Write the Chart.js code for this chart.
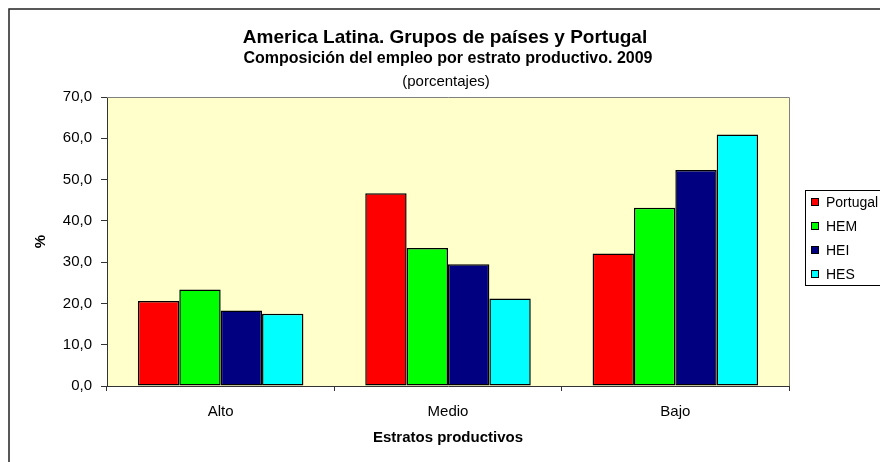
<!DOCTYPE html>
<html>
<head>
<meta charset="utf-8">
<script src="https://cdn.jsdelivr.net/npm/chart.js@4.4.0/dist/chart.umd.min.js"></script>
<style>
  html, body { margin: 0; padding: 0; background: #fff; }
  canvas { display: block; }
</style>
</head>
<body>
<canvas id="chart" width="880" height="462"></canvas>
<script>
// data
const categories = ['Alto', 'Medio', 'Bajo'];
const seriesNames = ['Portugal', 'HEM', 'HEI', 'HES'];
const portugal = [20.6, 46.7, 32.1];
const hem = [23.4, 33.4, 43.2];
const hei = [18.3, 29.5, 52.3];
const hes = [17.5, 21.2, 60.9];
const seriesColors = ['#FF0000', '#00FF00', '#000080', '#00FFFF'];

const titleLines = [
  'America Latina. Grupos de países y Portugal',
  'Composición del empleo por estrato productivo. 2009',
  '(porcentajes)'
];

const FONT = 'Arial, "Liberation Sans", sans-serif';

// white page, pale plot area, outer frame
const backdrop = {
  id: 'backdrop',
  beforeDraw(chart) {
    const { ctx, chartArea: a } = chart;
    ctx.save();
    ctx.fillStyle = '#fff';
    ctx.fillRect(0, 0, chart.width, chart.height);
    ctx.fillStyle = '#FFFFCC';
    ctx.fillRect(a.left, a.top, a.right - a.left, a.bottom - a.top);
    ctx.strokeStyle = '#222';
    ctx.lineWidth = 1.5;
    ctx.strokeRect(9, 9, 900, 500);
    ctx.restore();
  },
  afterDraw(chart) {
    const { ctx, chartArea: a } = chart;
    ctx.save();
    // top and right edge of plot
    ctx.strokeStyle = '#808080';
    ctx.lineWidth = 1;
    ctx.beginPath();
    ctx.moveTo(a.left, a.top + 0.5);
    ctx.lineTo(a.right + 0.5, a.top + 0.5);
    ctx.lineTo(a.right + 0.5, a.bottom);
    ctx.stroke();

    // titles
    const cx = (a.left + a.right) / 2;
    ctx.fillStyle = '#000';
    ctx.textAlign = 'center';
    ctx.textBaseline = 'middle';
    ctx.font = 'bold 19px ' + FONT;
    ctx.fillText(titleLines[0], cx - 3, 38);
    ctx.font = 'bold 16px ' + FONT;
    ctx.fillText(titleLines[1], cx, 59);
    ctx.font = '15px ' + FONT;
    ctx.fillText(titleLines[2], cx - 2, 82);

    // legend box
    ctx.strokeStyle = '#000';
    ctx.strokeRect(805.5, 190.5, 100, 95);
    ctx.font = '14px ' + FONT;
    ctx.textAlign = 'left';
    const rows = [202, 226, 250, 274];
    chart.data.datasets.forEach((ds, i) => {
      ctx.fillStyle = ds.backgroundColor;
      ctx.fillRect(811.5, rows[i] - 3.5, 7, 7);
      ctx.strokeRect(811.5, rows[i] - 3.5, 7, 7);
      ctx.fillStyle = '#000';
      ctx.fillText(ds.label, 826, rows[i] + 1);
    });
    ctx.restore();
  }
};

const seriesValues = [portugal, hem, hei, hes];

new Chart(document.getElementById('chart'), {
  type: 'bar',
  data: {
    labels: categories,
    datasets: seriesNames.map((name, i) => ({
      label: name,
      data: seriesValues[i],
      backgroundColor: seriesColors[i],
      borderColor: '#000',
      borderWidth: 1.5,
      borderSkipped: false,
      categoryPercentage: 0.728,
      barPercentage: 1
    }))
  },
  options: {
    responsive: false,
    animation: false,
    layout: { padding: { top: 97, right: 91, bottom: 0, left: 0 } },
    plugins: {
      legend: { display: false },
      tooltip: { enabled: false }
    },
    scales: {
      x: {
        afterFit: s => { s.height = 76; },
        grid: { drawOnChartArea: false, tickLength: 5, tickColor: '#333' },
        border: { color: '#333' },
        ticks: { color: '#000', padding: 12, font: { family: FONT, size: 15 } },
        title: {
          display: true,
          text: 'Estratos productivos',
          color: '#000',
          font: { family: FONT, size: 15, weight: 'bold' },
          padding: { top: 0, bottom: 15 }
        }
      },
      y: {
        min: 0,
        max: 70,
        afterFit: s => { s.width = 107; },
        grid: { drawOnChartArea: false, tickLength: 6, tickColor: '#333' },
        border: { color: '#333' },
        ticks: {
          stepSize: 10,
          color: '#000',
          padding: 9,
          font: { family: FONT, size: 15 },
          callback: v => v.toFixed(1).replace('.', ',')
        },
        title: {
          display: true,
          text: '%',
          color: '#000',
          font: { family: FONT, size: 15, weight: 'bold' },
          padding: { top: 32, bottom: 0 }
        }
      }
    }
  },
  plugins: [backdrop]
});
</script>
</body>
</html>
